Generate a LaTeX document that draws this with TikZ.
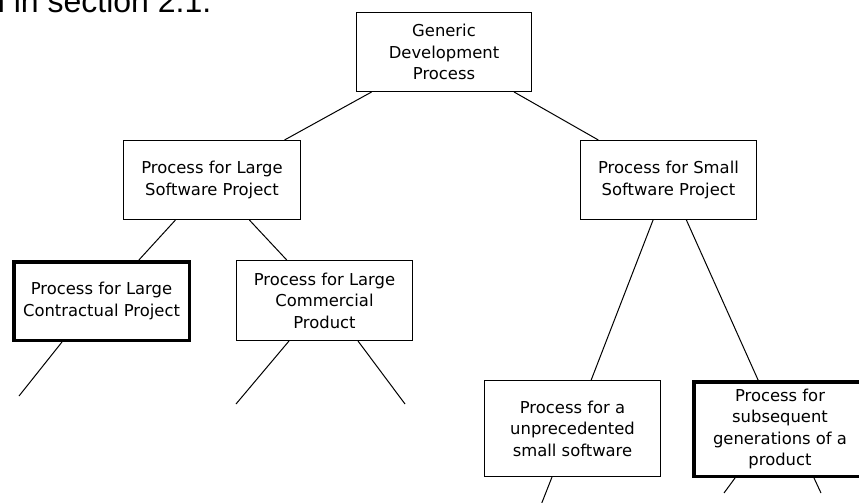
\documentclass[tikz,border=0pt]{standalone}
\usepackage{fontspec}
\setmainfont{DejaVu Sans}
\newfontfamily\headfont{Liberation Sans}
\begin{document}
\begin{tikzpicture}[x=1pt,y=-1pt,
  box/.style={draw, line width=1.3pt, align=center, inner sep=0pt, font=\fontsize{16.4}{21.5}\selectfont},
  thickbox/.style={box, line width=3.5pt},
  link/.style={line width=1pt}]
\useasboundingbox (0,0) rectangle (859,503);
\begin{scope}
\clip (0,0) rectangle (859,503);
\node[anchor=base west, font=\headfont\fontsize{32}{38}\selectfont, inner sep=0pt] (head) at (-13,13) {n in section 2.1.};

\node[box, minimum width=174.7, minimum height=78.7] (gen) at (444,52) {Generic\\Development\\Process};
\node[box, minimum width=176.7, minimum height=78.7] (lsw) at (212,180) {Process for Large\\Software Project};
\node[box, minimum width=175.7, minimum height=78.7] (ssw) at (668.5,180) {Process for Small\\Software Project};
\node[thickbox, minimum width=175.5, minimum height=78.5] (con) at (101.5,301) {Process for Large\\Contractual Project};
\node[box, minimum width=175.7, minimum height=79.7] (com) at (324.5,300.5) {Process for Large\\Commercial\\Product};
\node[box, minimum width=175.7, minimum height=95.7] (unp) at (572.5,428.5) {Process for a\\unprecedented\\small software};
\node[thickbox, minimum width=172.5, minimum height=94.5] (sub) at (780,429) {Process for\\subsequent\\generations of a\\product};

\draw[link] (gen) -- (lsw);
\draw[link] (gen) -- (ssw);
\draw[link] (lsw) -- (con);
\draw[link] (lsw) -- (com);
\draw[link] (ssw) -- (unp);
\draw[link] (ssw) -- (sub);

\coordinate (c1) at (19,396);
\coordinate (m1) at (236,404);
\coordinate (m2) at (405,404);
\coordinate (u1) at (541,505);
\coordinate (s1) at (724,493);
\coordinate (s2) at (821,493);
\draw[link] ([xshift=-39.5pt]con.south) -- (c1);
\draw[link] ([xshift=-35.5pt]com.south) -- (m1);
\draw[link] ([xshift=33.5pt]com.south) -- (m2);
\draw[link] ([xshift=-20.5pt]unp.south) -- (u1);
\draw[link] ([xshift=-45pt]sub.south) -- (s1);
\draw[link] ([xshift=34pt]sub.south) -- (s2);
\end{scope}
\end{tikzpicture}
\end{document}
